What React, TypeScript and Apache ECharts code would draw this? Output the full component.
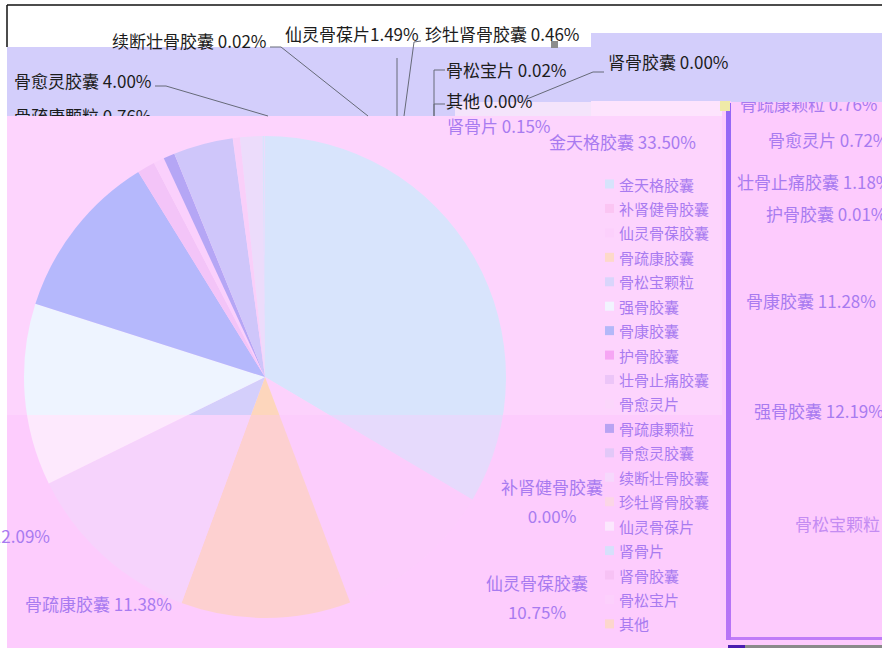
import React, { useEffect, useRef } from 'react';
import * as echarts from 'echarts';

// ---------- data ----------
const categories = ['金天格胶囊', '补肾健骨胶囊', '仙灵骨葆胶囊', '骨疏康胶囊', '骨松宝颗粒', '强骨胶囊', '骨康胶囊', '护骨胶囊', '壮骨止痛胶囊', '骨愈灵片', '骨疏康颗粒', '骨愈灵胶囊', '续断壮骨胶囊', '珍牡肾骨胶囊', '仙灵骨葆片', '肾骨片', '肾骨胶囊', '骨松宝片', '其他'];
const shares = [33.5, 0.0, 10.75, 11.38, 12.09, 12.19, 11.28, 0.01, 1.18, 0.72, 0.76, 4.0, 0.02, 0.46, 1.49, 0.15, 0.0, 0.02, 0.0];
const labelSep = [' ', '\n', '\n', ' ', ' ', ' ', ' ', ' ', ' ', ' ', ' ', ' ', ' ', ' ', '', ' ', ' ', ' ', ' '];

// ---------- styles ----------
const FONT = '"Noto Sans CJK SC", "Microsoft YaHei", sans-serif';
const INK = '#1c1c1c';
const PURPLE = '#a87bf0';
const LAV = '#d3cefb';
const SPLIT_Y = 415;
const H = 648;

const pieTop = ['#d8e4fc', '#fbc3f3', '#fcd2fc', '#fdd6bc', '#d4cffb', '#eef4ff', '#b5b8fc', '#f5a8f5', '#f3c4f8', '#fad0fc', '#b5a6f5', '#cfc6fa', '#f2d4fc', '#f9cff9', '#ecdcfb', '#d8e4fc', '#fbc3f3', '#fcd2fc', '#fdd6bc'];
const pieBottom = ['#e6dafc', '#fbc0f0', '#fccdfc', '#fdd0d0', '#f6d3fc', '#fde9fd', '#b5b8fc', '#f5a8f5', '#f3c4f8', '#fad0fc', '#b5a6f5', '#cfc6fa', '#f2d4fc', '#f9cff9', '#ecdcfb', '#d8e4fc', '#fbc3f3', '#fcd2fc', '#fdd6bc'];
const legendColors = ['#d6e3fb', '#fbc5f3', '#fcd0fc', '#fdd9c9', '#d9d5fb', '#f1f4fe', '#b3b8f9', '#f6a6f4', '#ecc5f8', '#fbd6fb', '#b8a3f3', '#e2c8f8', '#f6d8fc', '#fbd6e6', '#fbe7fd', '#d6e0fb', '#f7c2f5', '#fcd0fc', '#fcd6cc'];

// label placement: [x, y, align, ink?]
type Place = [number, number, 'left' | 'center' | 'right', boolean] | null;
const mainPlace: Place[] = [
  [549, 141, 'left', false],
  [552, 501, 'center', false],
  [537, 597, 'center', false],
  [25, 603, 'left', false],
  [50, 535, 'right', false],
  null, null, null, null, null,
  [14, 115, 'left', true],
  [14, 80, 'left', true],
  [112, 40, 'left', true],
  [425, 33, 'left', true],
  [285, 33, 'left', true],
  [447, 125, 'left', false],
  [608, 61, 'left', true],
  [446, 69, 'left', true],
  [446, 100, 'left', true],
];
const sidePlace: Place[] = [
  null, null, null, null,
  [795, 523, 'left', false],
  [754, 410, 'left', false],
  [746, 300, 'left', false],
  [766, 213, 'left', false],
  [737, 181, 'left', false],
  [768, 139, 'left', false],
  [740, 103, 'left', false],
  null, null, null, null, null, null, null, null,
];
const mainLines: (number[][] | null)[] = [
  null, null, null, null, null, null, null, null, null, null, null,
  [[155, 86], [166, 86], [268, 116]],
  [[270, 47], [281, 47], [368, 116]],
  [[397, 58], [397, 116]],
  [[421, 41], [414, 42], [404, 116]],
  null,
  [[604, 72], [593, 72], [527, 99]],
  [[445, 70], [434, 70], [434, 116]],
  [[445, 104], [434, 104], [434, 116]],
];

function zoneFill(top: string, bottom: string): any {
  if (top === bottom) return top;
  const o = SPLIT_Y / H;
  return new echarts.graphic.LinearGradient(0, 0, 0, H, [
    { offset: 0, color: top },
    { offset: o, color: top },
    { offset: o, color: bottom },
    { offset: 1, color: bottom },
  ], true);
}

const fmt = (p: any) => `${p.name}${labelSep[p.dataIndex]}${Number(p.value).toFixed(2)}%`;

export default function App() {
  const ref = useRef<HTMLDivElement>(null);
  useEffect(() => {
    document.body.style.margin = '0';
    const chart = echarts.init(ref.current!, null, { renderer: 'svg' });
    const bgGrad = new echarts.graphic.LinearGradient(0, 0, 0, H, [
      { offset: 0, color: '#fdd4fd' },
      { offset: SPLIT_Y / H, color: '#fdd4fd' },
      { offset: SPLIT_Y / H, color: '#fdccfd' },
      { offset: 1, color: '#fdccfd' },
    ], true);
    const option: any = {
      animation: false,
      legend: {
        orient: 'vertical',
        left: 600,
        top: 171.5,
        itemWidth: 9,
        itemHeight: 9,
        itemGap: 9.44,
        icon: 'rect',
        selectedMode: false,
        textStyle: { fontSize: 15, color: PURPLE, fontFamily: FONT },
        data: categories.map((name, i) => ({ name, itemStyle: { color: legendColors[i] } })),
      },
      graphic: [
        { type: 'rect', z: -10, silent: true, shape: { x: 7, y: 47, width: 584, height: 69 }, style: { fill: LAV } },
        { type: 'rect', z: -10, silent: true, shape: { x: 591, y: 33, width: 140, height: 68 }, style: { fill: LAV } },
        { type: 'rect', z: -10, silent: true, shape: { x: 455, y: 102, width: 136, height: 14 }, style: { fill: '#f4e4fb' } },
        { type: 'rect', z: -10, silent: true, shape: { x: 591, y: 101, width: 131, height: 15 }, style: { fill: '#fde4fd' } },
        { type: 'rect', z: -10, silent: true, shape: { x: 7, y: 116, width: 715, height: 532 }, style: { fill: bgGrad } },
        { type: 'rect', z: -10, silent: true, shape: { x: 722, y: 101, width: 160, height: 547 }, style: { fill: '#fdcbfd' } },
        {
          type: 'rect', z: -9, silent: true, shape: { x: 726, y: 103, width: 5, height: 537 },
          style: { fill: new echarts.graphic.LinearGradient(0, 0, 0, 1, [{ offset: 0, color: '#9466f6' }, { offset: 1, color: '#b874f6' }]) },
        },
        { type: 'rect', z: -9, silent: true, shape: { x: 731, y: 637, width: 151, height: 3 }, style: { fill: '#c07cf8' } },
        { type: 'rect', z: -9, silent: true, shape: { x: 728, y: 645, width: 17, height: 3 }, style: { fill: '#4a1cb0' } },
        { type: 'rect', z: -9, silent: true, shape: { x: 745, y: 645, width: 137, height: 3 }, style: { fill: '#8a8a8a' } },
        { type: 'rect', z: -9, silent: true, shape: { x: 720, y: 101, width: 10, height: 10 }, style: { fill: '#efeaa8' } },
        { type: 'line', z: -9, silent: true, shape: { x1: 7, y1: 5, x2: 882, y2: 5 }, style: { stroke: '#111', lineWidth: 1.5 } },
        { type: 'line', z: -9, silent: true, shape: { x1: 7, y1: 5, x2: 7, y2: 47 }, style: { stroke: '#111', lineWidth: 1.5 } },
        { type: 'rect', z: 100, silent: true, shape: { x: 731, y: 33, width: 151, height: 69 }, style: { fill: LAV } },
        { type: 'rect', z: 100, silent: true, shape: { x: 7, y: 116, width: 220, height: 20 }, style: { fill: '#fdd4fd' } },
        { type: 'rect', z: 100, silent: true, shape: { x: 551, y: 41, width: 7, height: 7 }, style: { fill: '#8c8c8c' } },
      ],
      series: [
        {
          type: 'pie',
          name: '市场份额',
          center: [265, 377],
          radius: 241,
          startAngle: 90,
          clockwise: true,
          avoidLabelOverlap: false,
          z: 2,
          emphasis: { disabled: true },
          itemStyle: { borderWidth: 0 },
          label: { show: true, position: 'outside', fontSize: 17, fontFamily: FONT, formatter: fmt, lineHeight: 29 },
          labelLine: { show: true, lineStyle: { color: '#666a78', width: 1 } },
          labelLayout: (p: any) => {
            const pl = mainPlace[p.dataIndex];
            if (!pl) return {};
            const r: any = { x: pl[0], y: pl[1], align: pl[2], verticalAlign: 'middle' };
            const ln = mainLines[p.dataIndex];
            if (ln) r.labelLinePoints = ln;
            return r;
          },
          data: categories.map((name, i) => ({
            name,
            value: shares[i],
            itemStyle: { color: zoneFill(pieTop[i], pieBottom[i]) },
            label: mainPlace[i] ? { show: true, color: mainPlace[i]![3] ? INK : PURPLE } : { show: false },
            labelLine: { show: !!mainLines[i] },
          })),
        },
        {
          type: 'pie',
          name: '标签',
          center: [265, 377],
          radius: 241,
          startAngle: 90,
          clockwise: true,
          avoidLabelOverlap: false,
          silent: true,
          z: 3,
          emphasis: { disabled: true },
          itemStyle: { color: 'rgba(0,0,0,0)', borderWidth: 0 },
          label: { show: true, position: 'outside', fontSize: 17, fontFamily: FONT, formatter: fmt },
          labelLine: { show: false },
          labelLayout: (p: any) => {
            const pl = sidePlace[p.dataIndex];
            if (!pl) return {};
            return { x: pl[0], y: pl[1], align: pl[2], verticalAlign: 'middle' };
          },
          data: categories.map((name, i) => ({
            name,
            value: shares[i],
            label: sidePlace[i] ? { show: true, color: i === 4 ? '#c48cf2' : PURPLE } : { show: false },
          })),
        },
      ],
    };
    chart.setOption(option);
    return () => chart.dispose();
  }, []);
  return <div ref={ref} style={{ width: 882, height: 648 }} />;
}
